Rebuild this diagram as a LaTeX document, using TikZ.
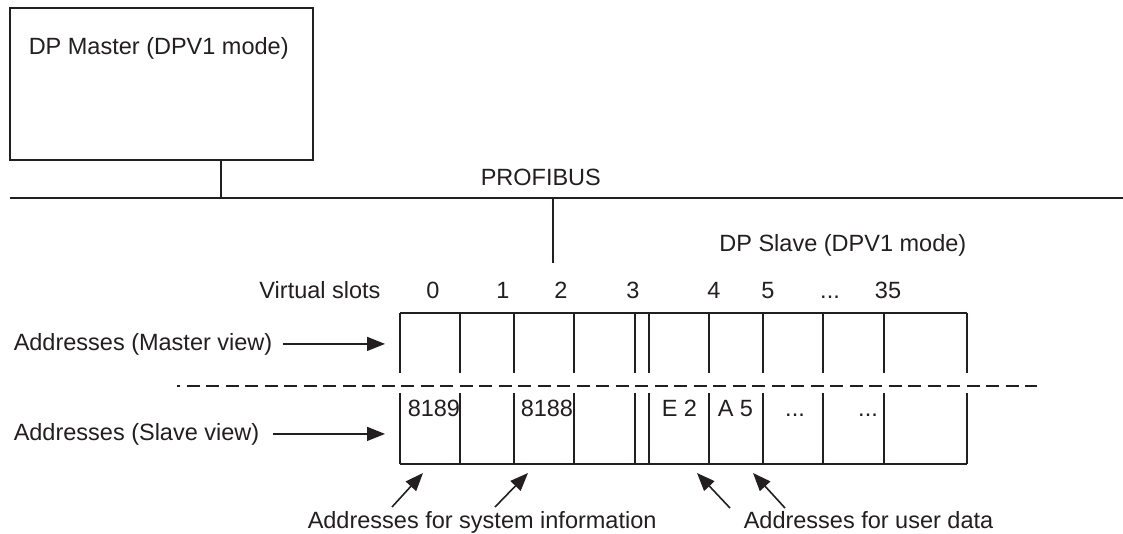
\documentclass[tikz,border=0pt]{standalone}
\usepackage{fontspec}
\setmainfont{Liberation Sans}
\usetikzlibrary{arrows.meta}
\definecolor{ink}{HTML}{231F20}
\begin{document}
\begin{tikzpicture}[x=1pt,y=-1pt,line width=1.5pt,draw=ink,
  font=\fontsize{23.5}{28}\selectfont,
  txt/.style={inner sep=0pt,text=ink},
  arr/.style={-{Triangle[length=18pt,width=14pt]},line width=1.6pt},
  cell/.style={line width=1.4pt},
  sep/.style={line width=1.3pt,dash pattern=on 13pt off 6.5pt,dash phase=10pt}]
\useasboundingbox (0,0) rectangle (1123,533);
\fill[white] (0,0) rectangle (1123,533);

% master
\node[draw,anchor=north west,inner sep=0pt,minimum width=303pt,minimum height=152pt] (master) at (9,7) {};
\node[txt,anchor=base west] (mastertxt) at (28,54) {DP Master (DPV1 mode)};
\coordinate (busM) at (221,198);
\draw (master.south -| busM) -- (busM);

% bus
\coordinate (busL) at (10,198);
\coordinate (busR) at (1123,198);
\draw (busL) -- (busR);
\node[txt,anchor=base west] (prof) at (480,185) {PROFIBUS};
\coordinate (busS) at (553,198);
\coordinate (slaveTop) at (553,263);
\draw (busS) -- (slaveTop);

% slave labels
\node[txt,anchor=base east] (slave) at (967,251) {DP Slave (DPV1 mode)};
\node[txt,anchor=base] (vs) at (320,298) {Virtual slots};
\node[txt,anchor=base] (slot0) at (433,298) {0};
\node[txt,anchor=base] (slot1) at (503,298) {1};
\node[txt,anchor=base] (slot2) at (561,298) {2};
\node[txt,anchor=base] (slot3) at (633,298) {3};
\node[txt,anchor=base] (slot4) at (714,298) {4};
\node[txt,anchor=base] (slot5) at (768,298) {5};
\node[txt,anchor=base] (slotd) at (830,298) {...};
\node[txt,anchor=base] (slot35) at (888,298) {35};

% slot table
\draw[cell] (400,313) -- (967,313);
\draw[cell] (400,464) -- (967,464);
\foreach \x in {400,460,514,574,635,649,709,763,823,884,967}{
  \draw[cell] (\x,313) -- (\x,373);
  \draw[cell] (\x,393) -- (\x,464);
}
\coordinate (dashL) at (177,386);
\coordinate (dashR) at (1037,386);
\draw[sep] (dashL) -- (dashR);

% entries
\node[txt,anchor=base west] (a8189) at (407,416) {8189};
\node[txt,anchor=base west] (a8188) at (520,416) {8188};
\node[txt,anchor=base west] (e2) at (661,416) {E 2};
\node[txt,anchor=base west] (a5) at (717,416) {A 5};
\node[txt,anchor=base] (d1) at (795,416) {...};
\node[txt,anchor=base] (d2) at (868,416) {...};

% left labels
\coordinate (tableL) at (385,0);
\node[txt,anchor=base west] (mview) at (13,350) {Addresses (Master view)};
\node[txt,anchor=base west] (sview) at (13,440) {Addresses (Slave view)};
\draw[arr] ([xshift=10pt]mview.east) -- (mview.east -| tableL);
\draw[arr] ([xshift=13pt]sview.east) -- (sview.east -| tableL);

% bottom labels
\node[txt,anchor=base west] (sysinfo) at (307,528) {Addresses for system information};
\node[txt,anchor=base west] (userdata) at (743,528) {Addresses for user data};
\coordinate (t1) at (423,473); \coordinate (s1) at (392,507);
\coordinate (t2) at (528,473); \coordinate (s2) at (495,507);
\coordinate (t3) at (697,473); \coordinate (s3) at (730,508);
\coordinate (t4) at (753,473); \coordinate (s4) at (785,508);
\draw[arr] (s1) -- (t1);
\draw[arr] (s2) -- (t2);
\draw[arr] (s3) -- (t3);
\draw[arr] (s4) -- (t4);
\end{tikzpicture}
\end{document}
